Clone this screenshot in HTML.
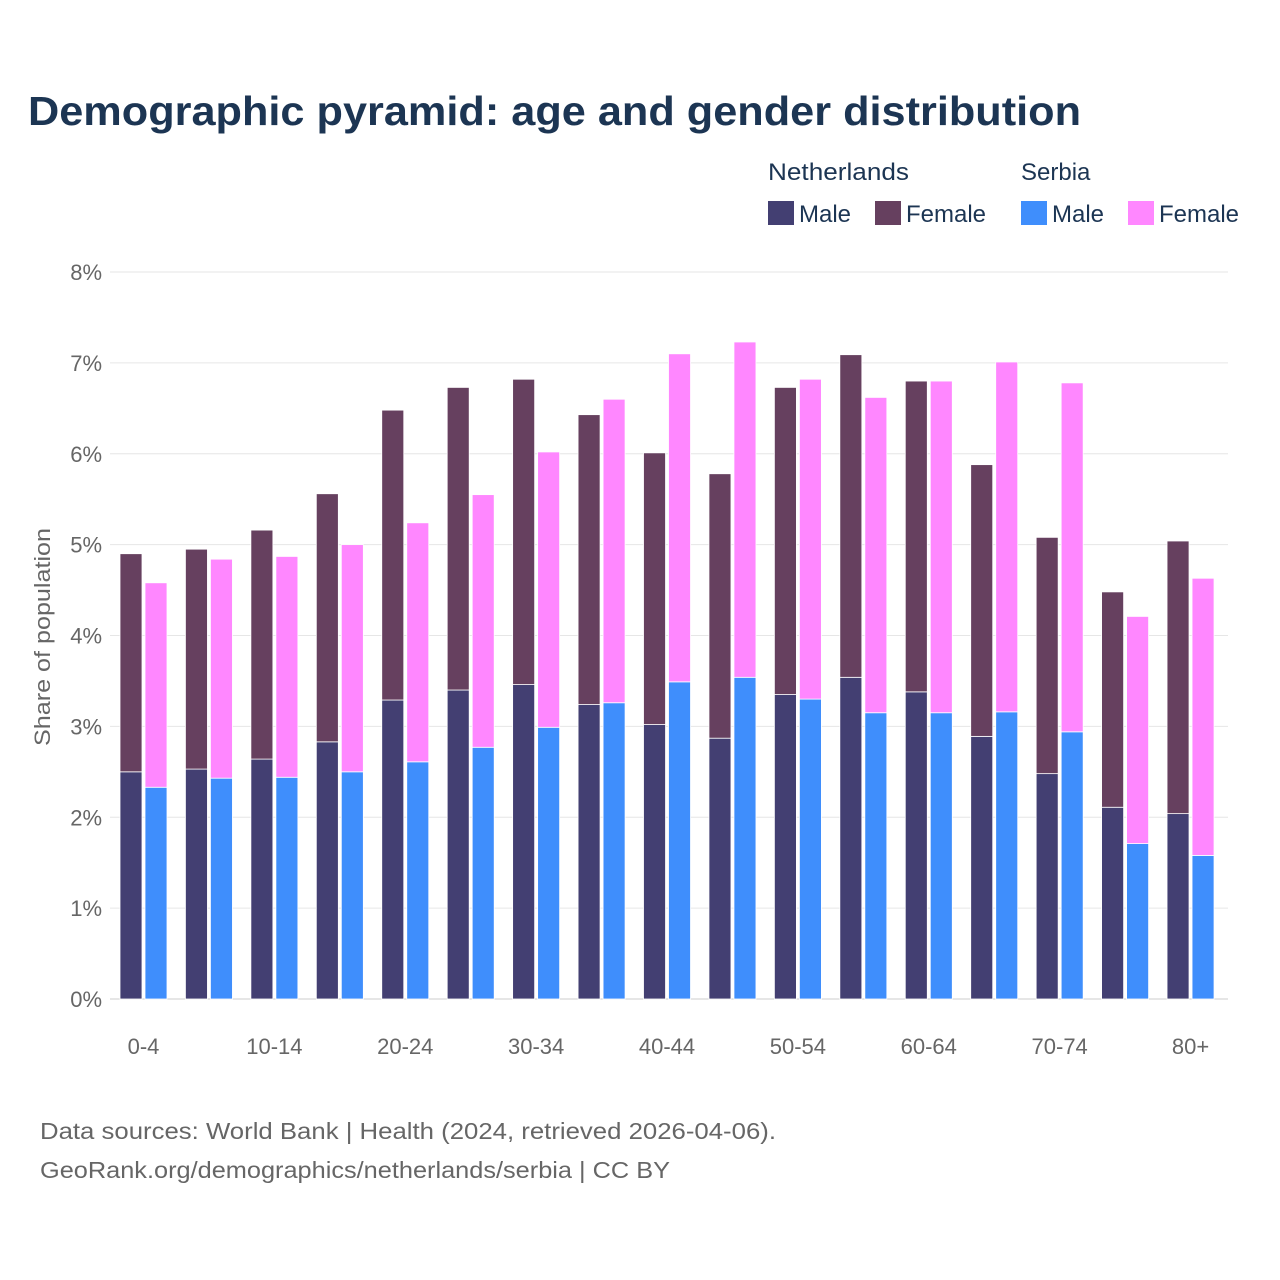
<!DOCTYPE html>
<html><head><meta charset="utf-8">
<style>
html,body{margin:0;padding:0;background:#fff;width:1280px;height:1280px;overflow:hidden}
svg{font-family:"Liberation Sans",sans-serif}
</style></head>
<body>
<svg id="chart" width="1280" height="1280" viewBox="0 0 1280 1280">
<text x="28" y="125" font-size="41" font-weight="bold" fill="#1c3553" textLength="1053" lengthAdjust="spacingAndGlyphs">Demographic pyramid: age and gender distribution</text>
<g font-size="24" fill="#1c3553">
<text x="768" y="180" textLength="141" lengthAdjust="spacingAndGlyphs">Netherlands</text>
<text x="1021" y="180">Serbia</text>
<g><rect x="768" y="201" width="26" height="24" fill="#433f72"/><text x="799" y="222">Male</text></g>
<g><rect x="875" y="201" width="26" height="24" fill="#66405f"/><text x="906" y="222">Female</text></g>
<g><rect x="1021" y="201" width="26" height="24" fill="#3f8efc"/><text x="1052" y="222">Male</text></g>
<g><rect x="1128" y="201" width="26" height="24" fill="#ff87ff"/><text x="1159" y="222">Female</text></g>
</g>
<g id="grid"></g>
<g id="bars"></g>
<g id="xlabels"></g>
<text transform="translate(50,637) rotate(-90)" text-anchor="middle" font-size="22" fill="#666" textLength="218" lengthAdjust="spacingAndGlyphs">Share of population</text>
<text x="40" y="1139" font-size="23" fill="#666" textLength="736" lengthAdjust="spacingAndGlyphs">Data sources: World Bank | Health (2024, retrieved 2026-04-06).</text>
<text x="40" y="1178" font-size="23" fill="#666" textLength="630" lengthAdjust="spacingAndGlyphs">GeoRank.org/demographics/netherlands/serbia | CC BY</text>
</svg>
<script>
const categories=["0-4","5-9","10-14","15-19","20-24","25-29","30-34","35-39","40-44","45-49","50-54","55-59","60-64","65-69","70-74","75-79","80+"];
const nlMale=[2.50,2.53,2.64,2.83,3.29,3.40,3.46,3.24,3.02,2.87,3.35,3.54,3.38,2.89,2.48,2.11,2.04];
const nlTotal=[4.90,4.95,5.16,5.56,6.48,6.73,6.82,6.43,6.01,5.78,6.73,7.09,6.80,5.88,5.08,4.48,5.04];
const rsMale=[2.33,2.43,2.44,2.50,2.61,2.77,2.99,3.26,3.49,3.54,3.30,3.15,3.15,3.16,2.94,1.71,1.58];
const rsTotal=[4.58,4.84,4.87,5.00,5.24,5.55,6.02,6.60,7.10,7.23,6.82,6.62,6.80,7.01,6.78,4.21,4.63];
const nlFemale=nlTotal.map((t,i)=>+(t-nlMale[i]).toFixed(2));
const rsFemale=rsTotal.map((t,i)=>+(t-rsMale[i]).toFixed(2));
const yTicks=[0,1,2,3,4,5,6,7,8];
const NS="http://www.w3.org/2000/svg";
const y=v=>999-v*90.875;
const gx=i=>143.5+i*65.44;
function mk(tag,attrs,parent){const e=document.createElementNS(NS,tag);for(const k in attrs)e.setAttribute(k,attrs[k]);parent.appendChild(e);return e;}
const grid=document.getElementById('grid'),bars=document.getElementById('bars'),xl=document.getElementById('xlabels');
yTicks.forEach(t=>{
 const l=mk('line',{x1:110,x2:1228,y1:y(t),y2:y(t),stroke:t===0?'#ccc':'#e6e6e6','stroke-width':1},grid);
 
 
 const tx=mk('text',{x:102,y:y(t)+8,'text-anchor':'end','font-size':22,fill:'#666'},grid);
 tx.textContent=t+'%';
 
 
});
function seg(x,v0,v1,col,name){
 const r=mk('rect',{x:x,y:y(v1),width:22,height:y(v0)-y(v1),fill:col,stroke:'#fff','stroke-width':0.8},bars);
 
 
}
categories.forEach((c,i)=>{
 const cx=gx(i);
 seg(cx-23.5,0,nlMale[i],'#433f72','bar-nl-male-'+c);
 seg(cx-23.5,nlMale[i],nlMale[i]+nlFemale[i],'#66405f','bar-nl-female-'+c);
 seg(cx+1.5,0,rsMale[i],'#3f8efc','bar-rs-male-'+c);
 seg(cx+1.5,rsMale[i],rsMale[i]+rsFemale[i],'#ff87ff','bar-rs-female-'+c);
 if(i%2===0){
  const t=mk('text',{x:cx,y:1054,'text-anchor':'middle','font-size':22,fill:'#666'},xl);
  t.textContent=c;
  
  
 }
});
</script>
</body></html>
